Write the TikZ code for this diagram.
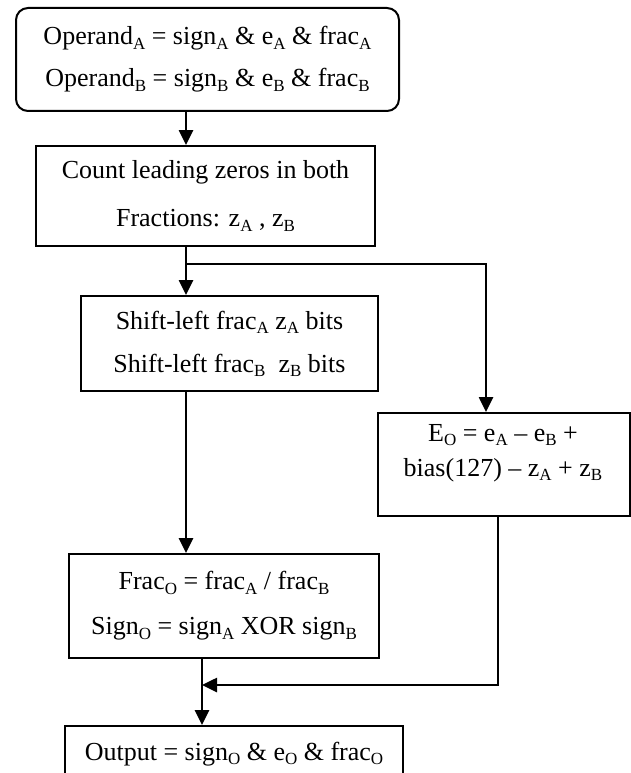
\documentclass[tikz,border=0pt]{standalone}
\usepackage{fontspec}
\setmainfont{Liberation Serif}
\usetikzlibrary{arrows.meta,calc}
\newcommand\subt[1]{\raisebox{-0.16em}{\fontsize{17}{17}\selectfont #1}}
\begin{document}
\begin{tikzpicture}[x=1pt,y=-1pt,
  bx/.style={draw, line width=2pt, align=center, inner sep=0pt, anchor=north west},
  arr/.style={line width=2.6pt, line join=miter, -{Triangle[length=15pt,width=14pt]}},
]
\clip (0,0) rectangle (631,773);
\fill[white] (0,0) rectangle (631,773);

\node[bx, rounded corners=12pt, minimum width=383, minimum height=103, font=\fontsize{26}{42}\selectfont] (b1) at (15,7)
  {Operand\subt{A} = sign\subt{A} \& e\subt{A} \& frac\subt{A}\\Operand\subt{B} = sign\subt{B} \& e\subt{B} \& frac\subt{B}};
\node[bx, minimum width=339, minimum height=100, font=\fontsize{26}{48}\selectfont] (b2) at (35,145)
  {Count leading zeros in both\\Fractions: z\subt{A} , z\subt{B}};
\node[bx, minimum width=297, minimum height=95, font=\fontsize{26}{43}\selectfont] (b3) at (80,295)
  {Shift-left frac\subt{A} z\subt{A} bits\\Shift-left frac\subt{B}\ \ z\subt{B} bits};
\node[bx, minimum width=310, minimum height=104, font=\fontsize{26}{45}\selectfont] (b4) at (68,553)
  {Frac\subt{O} = frac\subt{A} / frac\subt{B}\\Sign\subt{O} = sign\subt{A} XOR sign\subt{B}};
\node[bx, minimum width=252, minimum height=103] (bE) at (377,412) {};
\node[align=center, inner sep=0pt, font=\fontsize{26}{35}\selectfont] (Et) at (503,453)
  {E\subt{O} = e\subt{A} – e\subt{B} +\\bias(127) – z\subt{A} + z\subt{B}};
\node[bx, minimum width=338, minimum height=56, font=\fontsize{26}{30}\selectfont] (bO) at (64,725)
  {Output = sign\subt{O} \& e\subt{O} \& frac\subt{O}};

\coordinate (xa) at (186,0);
\coordinate (xb) at (202,0);
\coordinate (xe) at (486,0);
\coordinate (xf) at (498,0);
\coordinate (yb) at (0,264);
\coordinate (ym) at (0,685);

\draw[arr] (b1.south -| xa) -- (b2.north -| xa);
\draw[arr] (b2.south -| xa) -- (b3.north -| xa);
\draw[arr] (yb -| xa) -- (yb -| xe) -- (bE.north -| xe);
\draw[arr] (b3.south -| xa) -- (b4.north -| xa);
\draw[arr] (b4.south -| xb) -- (bO.north -| xb);
\draw[arr] (bE.south -| xf) -- (ym -| xf) -- (ym -| xb);
\end{tikzpicture}
\end{document}
